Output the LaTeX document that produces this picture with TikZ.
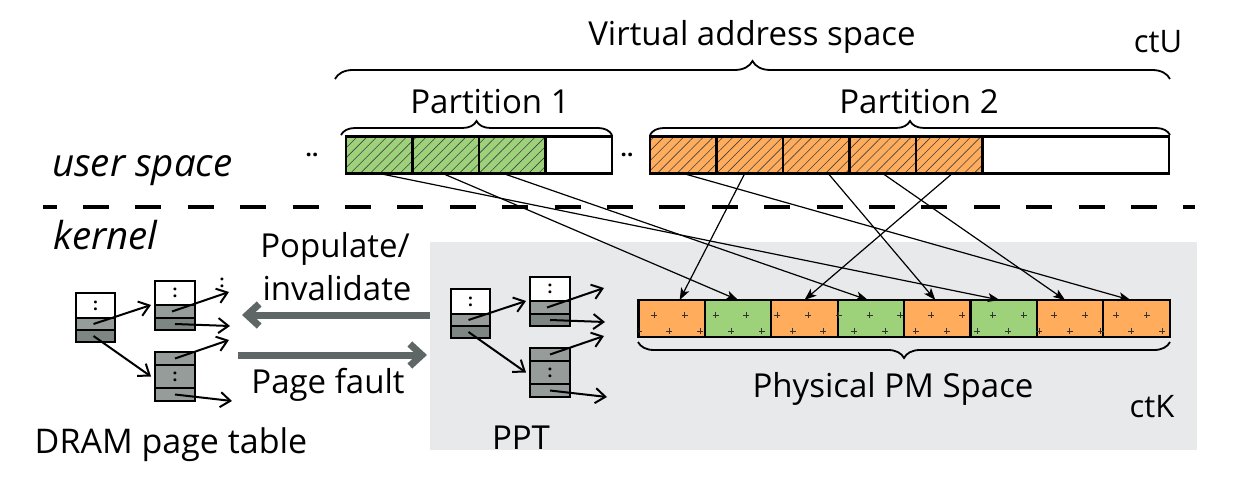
\documentclass[tikz,border=0pt]{standalone}
\usepackage{fontspec}
\setmainfont{Open Sans}
\usetikzlibrary{arrows.meta,patterns.meta,decorations.pathreplacing,calc}
\definecolor{gcol}{HTML}{9DD27A}
\definecolor{ocol}{HTML}{FFAD5C}
\definecolor{bgcol}{HTML}{E7E9EA}
\definecolor{rowA}{HTML}{959C99}
\definecolor{rowB}{HTML}{7E8683}
\definecolor{bigarr}{HTML}{5E6765}

\tikzset{
  txt/.style={font=\fontsize{33}{40}\selectfont, inner sep=0pt, anchor=base},
  ittxt/.style={font=\fontsize{38.5}{44}\selectfont\itshape, inner sep=0pt, anchor=base west},
  cttxt/.style={font=\fontsize{31}{38}\selectfont, inner sep=0pt, anchor=base},
  vcell/.style={draw=black, line width=2.2pt, minimum width=66.5pt, minimum height=37pt, inner sep=0pt, outer sep=0pt},
  hatchg/.style={vcell, preaction={fill=gcol}, pattern={Lines[angle=45,distance=7pt,line width=0.6pt]}, pattern color=black!75},
  hatcho/.style={vcell, preaction={fill=ocol}, pattern={Lines[angle=45,distance=7pt,line width=0.6pt]}, pattern color=black!75},
  pcell/.style={draw=black, line width=2.2pt, minimum width=66.4pt, minimum height=37pt, inner sep=0pt, outer sep=0pt},
  varrow/.style={line width=1.2pt, -{Stealth[length=12pt,width=9pt,inset=3pt]}},
  ptrow/.style={draw=black, line width=1.8pt, inner sep=0pt, outer sep=0pt},
  parrow/.style={line width=2pt, -{Straight Barb[length=10pt,width=15pt]}},
  bigarrow/.style={draw=bigarr, line width=7pt, -{Straight Barb[length=12pt,width=22pt]}},
  bracestyle/.style={line width=1.8pt, decorate},
  colontxt/.style={font=\fontsize{17}{17}\selectfont\bfseries, inner sep=0pt},
  plusmark/.style={line width=0.8pt, black!80}
}

\newcommand{\pgtable}[3]{%
\begin{scope}[shift={(#2,#3)}]
  % root
  \node[ptrow, fill=white, minimum width=39pt, minimum height=25pt] (#1rt) at (19.5,12.5) {};
  \node[ptrow, fill=rowA, minimum width=39pt, minimum height=12pt] (#1rg) at (19.5,31) {};
  \node[ptrow, fill=rowB, minimum width=39pt, minimum height=12pt] (#1rd) at (19.5,43) {};
  \node[colontxt] at (#1rt.center) {:};
  % upper child
  \node[ptrow, fill=white, minimum width=40pt, minimum height=24pt] (#1ut) at (99,0) {};
  \node[ptrow, fill=rowA, minimum width=40pt, minimum height=13pt] (#1ug) at (99,18.5) {};
  \node[ptrow, fill=rowB, minimum width=40pt, minimum height=12pt] (#1ud) at (99,31) {};
  \node[colontxt] at (#1ut.center) {:};
  % lower child
  \node[ptrow, fill=rowA, minimum width=40pt, minimum height=13pt] (#1lg) at (99,65.5) {};
  \node[ptrow, fill=rowA, minimum width=40pt, minimum height=23pt] (#1lm) at (99,83.5) {};
  \node[ptrow, fill=rowA, minimum width=40pt, minimum height=13pt] (#1lh) at (99,101.5) {};
  \node[colontxt] at (#1lm.center) {:};
  % free ends
  \coordinate (#1e1) at (153,-1);
  \coordinate (#1e2) at (154,33);
  \coordinate (#1e3) at (153,47);
  \coordinate (#1e4) at (156,108);
  % connectors
  \draw[parrow] ([xshift=-2pt]#1rg.center) -- ([xshift=-4pt]#1ut.south west);
  \draw[parrow] ([xshift=-2pt]#1rd.center) -- ([xshift=-4pt]#1lm.west);
  \draw[parrow] ([xshift=-3pt]#1ug.center) -- (#1e1);
  \draw[parrow] (#1ud.center) -- (#1e2);
  \draw[parrow] (#1lg.center) -- (#1e3);
  \draw[parrow] (#1lh.center) -- (#1e4);
\end{scope}}

\begin{document}
\begin{tikzpicture}[x=1pt,y=-1pt]
\useasboundingbox (0,0) rectangle (1244,494);
\fill[white] (0,0) rectangle (1244,494);
% kernel background
\fill[bgcol] (430,242) rectangle (1197,450);

% separator
\draw[line width=4.5pt, dash pattern=on 26pt off 26.4pt, dash phase=12.4pt] (43,207) -- (1195,207);

% texts
\node[txt] (vas) at (752,46) {Virtual address space};
\node[cttxt] (ctu) at (1158,53) {ctU};
\node[txt] (pt1) at (490,114) {Partition 1};
\node[txt] (pt2) at (919,114) {Partition 2};
\node[ittxt] (us) at (52,177) {user space};
\node[ittxt] (kn) at (53,250) {kernel};
\node[txt] (pop) at (335,258) {Populate/};
\node[txt] (inv) at (337,300) {invalidate};
\node[txt] (pf) at (328,393) {Page fault};
\node[txt, font=\fontsize{34}{40}\selectfont] (dram) at (171,453) {DRAM page table};
\node[txt] (ppt) at (521,449) {PPT};
\node[txt] (pms) at (893,397) {Physical PM Space};
\node[cttxt] (ctk) at (1152,417) {ctK};
\node[font=\fontsize{22}{22}\selectfont\bfseries, inner sep=0pt, anchor=base] (d1) at (312,157) {..};
\node[font=\fontsize{22}{22}\selectfont\bfseries, inner sep=0pt, anchor=base] (d2) at (627,157) {..};

% braces
\draw[bracestyle, decoration={brace, amplitude=18pt}] (335,79) -- (1170,79);
\draw[bracestyle, decoration={brace, amplitude=14pt}] (341,135) -- (612,135);
\draw[bracestyle, decoration={brace, amplitude=14pt}] (650,135) -- (1170,135);
\draw[bracestyle, decoration={brace, amplitude=16pt}] (1170,342) -- (638,342);

% virtual cells partition 1
\node[hatchg] (g1) at (379.25,155) {};
\node[hatchg] (g2) at (445.75,155) {};
\node[hatchg] (g3) at (512.25,155) {};
\node[vcell, fill=white] (w1) at (578.75,155) {};
% partition 2
\node[hatcho] (o1) at (683.25,155) {};
\node[hatcho] (o2) at (749.75,155) {};
\node[hatcho] (o3) at (816.25,155) {};
\node[hatcho] (o4) at (882.75,155) {};
\node[hatcho] (o5) at (949.25,155) {};
\node[vcell, fill=white, minimum width=186.5pt] (w2) at (1075.75,155) {};

% physical PM cells
\node[pcell, fill=ocol] (p1) at (671.7,318.5) {};
\node[pcell, fill=gcol] (p2) at (738.1,318.5) {};
\node[pcell, fill=ocol] (p3) at (804.5,318.5) {};
\node[pcell, fill=gcol] (p4) at (870.9,318.5) {};
\node[pcell, fill=ocol] (p5) at (937.3,318.5) {};
\node[pcell, fill=gcol] (p6) at (1003.7,318.5) {};
\node[pcell, fill=ocol] (p7) at (1070.1,318.5) {};
\node[pcell, fill=ocol] (p8) at (1136.5,318.5) {};
\begin{scope}
  \clip (638.5,300) rectangle (1169.7,337);
  \foreach \k in {-1,...,17} {
    \draw[plusmark] ({654+30.8*\k-3},315) -- ({654+30.8*\k+3},315) ({654+30.8*\k},312) -- ({654+30.8*\k},318);
    \draw[plusmark] ({669.4+30.8*\k-3},331) -- ({669.4+30.8*\k+3},331) ({669.4+30.8*\k},328) -- ({669.4+30.8*\k},334);
  }
\end{scope}

% mapping arrows
\draw[varrow] (g1.south) -- ([xshift=-4pt]p6.north);
\draw[varrow] ([xshift=-3pt]g2.south) -- (p2.north);
\draw[varrow] ([xshift=-9pt]g3.south) -- ([xshift=-3pt]p4.north);
\draw[varrow] (o1.south) -- ([xshift=-6pt]p8.north);
\draw[varrow] ([xshift=-5pt]o2.south) -- ([xshift=8pt]p1.north);
\draw[varrow] ([xshift=12pt]o3.south) -- ([xshift=-2pt]p5.north);
\draw[varrow] (o4.south) -- ([xshift=-5pt]p7.north);
\draw[varrow] ([xshift=3pt]o5.south) -- (p3.north);

% page tables
\pgtable{d}{76}{293}
\node[colontxt] (dcol) at (222,283) {:};
\pgtable{q}{451}{289}

% populate / page fault arrows
\coordinate (popS) at (430,315);
\coordinate (popE) at (242,315);
\coordinate (pfS) at (238,355);
\coordinate (pfE) at (427,355);
\draw[bigarrow] (popS) -- (popE);
\draw[bigarrow] (pfS) -- (pfE);
\end{tikzpicture}
\end{document}
